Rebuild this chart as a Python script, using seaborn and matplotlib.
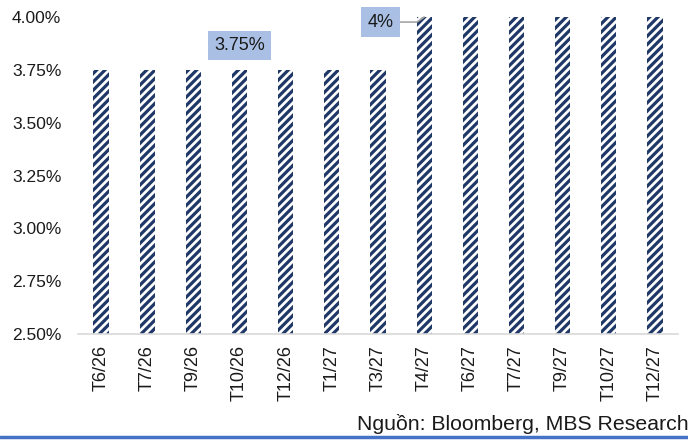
import matplotlib
matplotlib.use("Agg")
import matplotlib.pyplot as plt
import seaborn as sns
import pandas as pd

categories = ["T6/26", "T7/26", "T9/26", "T10/26", "T12/26", "T1/27", "T3/27",
              "T4/27", "T6/27", "T7/27", "T9/27", "T10/27", "T12/27"]
rates = [3.75, 3.75, 3.75, 3.75, 3.75, 3.75, 3.75,
         4.00, 4.00, 4.00, 4.00, 4.00, 4.00]
yticks = [2.50, 2.75, 3.00, 3.25, 3.50, 3.75, 4.00]
source = "Nguồn: Bloomberg, MBS Research"

sns.set_theme(style="white")
plt.rcParams["font.family"] = ["Liberation Sans", "DejaVu Sans"]
plt.rcParams["hatch.linewidth"] = 2.3

navy = "#1F3868"
hatch = "////"
df = pd.DataFrame({"cat": categories, "rate": rates})

fig = plt.figure(figsize=(6.88, 4.41), dpi=100)
ax = fig.add_axes([78 / 688, 1 - 334 / 441, 600 / 688, (334 - 17) / 441])
sns.barplot(data=df, x="cat", y="rate", ax=ax, color="white", width=0.33,
            linewidth=0, edgecolor=navy, hatch=hatch, saturation=1)
for p in ax.patches:
    p.set_edgecolor(navy)
    p.set_hatch(hatch)
    p.set_linewidth(0)

ax.set_ylim(2.5, 4.0)
ax.set_yticks(yticks)
ax.set_yticklabels([f"{v:.2f}%" for v in yticks], fontsize=12.5, color="#1a1a1a")
ax.set_xlim(-0.5, len(categories) - 0.5)
ax.set_xticks(range(len(categories)))
ax.set_xticklabels(categories, rotation=90, fontsize=13, color="#1a1a1a")
ax.tick_params(axis="y", length=0, pad=12)
ax.tick_params(axis="x", length=0, pad=8)
ax.set_xlabel("")
ax.set_ylabel("")
for s in ["top", "right", "left"]:
    ax.spines[s].set_visible(False)
ax.spines["bottom"].set_color("#D9D9D9")
ax.spines["bottom"].set_linewidth(1.2)

ax.text(3, 3.865, "3.75%", ha="center", va="center", fontsize=13,
        color="#1a1a1a",
        bbox=dict(boxstyle="square,pad=0.35", facecolor="#A9C0E4", edgecolor="none"))
ax.annotate("4%", xy=(7, 4.0), xytext=(6.05, 3.976), ha="center", va="center",
            fontsize=13, color="#1a1a1a",
            bbox=dict(boxstyle="square,pad=0.35", facecolor="#A9C0E4", edgecolor="none"),
            arrowprops=dict(arrowstyle="-", color="#A6A6A6", lw=1.2,
                            shrinkA=0, shrinkB=0,
                            connectionstyle="angle,angleA=0,angleB=35,rad=0"),
            annotation_clip=False)

fig.text(689 / 688, 1 - 424 / 441, source, ha="right", va="center",
         fontsize=15.3, color="#1a1a1a")
fig.add_artist(plt.Line2D([0, 1], [1 - 437 / 441] * 2, color="#4472C4",
                          lw=2.5, transform=fig.transFigure))

fig.savefig("out.png", dpi=100)
